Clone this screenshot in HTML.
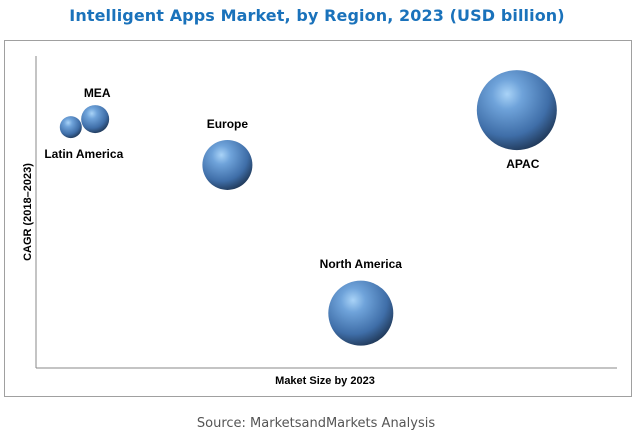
<!DOCTYPE html>
<html><head><meta charset="utf-8"><style>
body{margin:0;background:#fff;width:635px;height:434px;overflow:hidden}
svg{display:block}
</style></head><body>
<svg width="635" height="434">
<defs>
<radialGradient id="g" cx="0.38" cy="0.3" r="0.75">
<stop offset="0" stop-color="#a9d3f7"/>
<stop offset="0.25" stop-color="#6fa3da"/>
<stop offset="0.7" stop-color="#3f6ea8"/>
<stop offset="1" stop-color="#1e3553"/>
</radialGradient>
</defs>
<text x="317" y="21" text-anchor="middle" font-family="'DejaVu Sans',sans-serif" font-weight="bold" font-size="16" letter-spacing="0.1" fill="#1a72bb">Intelligent Apps Market, by Region, 2023 (USD billion)</text>
<rect x="4.5" y="40.5" width="627" height="356" fill="none" stroke="#a0a0a0"/>
<line x1="36" y1="56" x2="36" y2="368" stroke="#888"/>
<line x1="36" y1="368" x2="617" y2="368" stroke="#888"/>
<text x="325" y="384" text-anchor="middle" font-family="'Liberation Sans',sans-serif" font-weight="bold" font-size="11">Maket Size by 2023</text>
<text transform="translate(31,212) rotate(-90)" text-anchor="middle" font-family="'Liberation Sans',sans-serif" font-weight="bold" font-size="11">CAGR (2018–2023)</text>
<text x="316" y="427" text-anchor="middle" font-family="'DejaVu Sans',sans-serif" font-size="13" fill="#555">Source: MarketsandMarkets Analysis</text>
<g id="marks"></g>
</svg>
<script>
const regions=["Latin America","MEA","Europe","APAC","North America"];
const marketSize=[6.0,10.2,33.0,82.9,56.0];
const cagr=[77.7,80.3,65.5,83.2,17.7];
const bubbleSize=[11,14,25,40,32.5];
const labelDx=[13,2,0,6,0];
const labelDy=[31,-22,-37,58,-45];
function xs(v){return 36+v*5.8;}
function ys(v){return 368-v*3.1;}
const g=document.getElementById('marks');
const ns="http://www.w3.org/2000/svg";
for(let i=0;i<regions.length;i++){
 const c=document.createElementNS(ns,'circle');
 c.setAttribute('cx',xs(marketSize[i]));
 c.setAttribute('cy',ys(cagr[i]));
 c.setAttribute('r',bubbleSize[i]);
 c.setAttribute('fill','url(#g)');
 
 
 g.appendChild(c);
 const t=document.createElementNS(ns,'text');
 t.setAttribute('x',xs(marketSize[i])+labelDx[i]);
 t.setAttribute('y',ys(cagr[i])+labelDy[i]);
 t.setAttribute('text-anchor','middle');
 t.setAttribute('font-family',"'Liberation Sans',sans-serif");
 t.setAttribute('font-weight','bold');
 t.setAttribute('font-size','12');
 t.textContent=regions[i];
 
 
 g.appendChild(t);
}
</script>
</body></html>
